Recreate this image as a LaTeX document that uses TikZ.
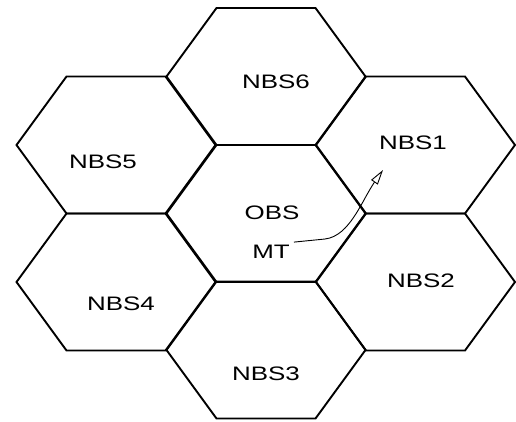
\documentclass[tikz,border=0pt]{standalone}
\usepackage{fontspec}
\setmainfont{Liberation Sans}
\usetikzlibrary{arrows.meta}

\tikzset{
  cell/.style={line width=1.9pt, line join=miter},
  lbl/.style={font=\fontsize{19.5}{22}\selectfont, xscale=1.33, inner sep=3pt},
  move/.style={line width=0.9pt, -{Triangle[open, length=15pt, width=8pt]}}
}

\begin{document}
\begin{tikzpicture}[x=1pt, y=-1pt]
        \useasboundingbox (0,0) rectangle (516,421);

        % Centre cell
        \draw [cell] (166.5,213.5) -- ++(50,-68.5) -- ++(99,0) -- ++(50,68.5) -- ++(-50,68.5) -- ++(-99,0) -- cycle;

        % Neighbour cells
        \draw [cell] (166.5,76.5) -- ++(50,-68.5) -- ++(99,0) -- ++(50,68.5) -- ++(-50,68.5) -- ++(-99,0) -- cycle;
        \draw [cell] (316,145) -- ++(50,-68.5) -- ++(99,0) -- ++(50,68.5) -- ++(-50,68.5) -- ++(-99,0) -- cycle;
        \draw [cell] (316,282) -- ++(50,-68.5) -- ++(99,0) -- ++(50,68.5) -- ++(-50,68.5) -- ++(-99,0) -- cycle;
        \draw [cell] (166.5,350) -- ++(50,-68.5) -- ++(99,0) -- ++(50,68.5) -- ++(-50,68.5) -- ++(-99,0) -- cycle;
        \draw [cell] (16.5,282) -- ++(50,-68.5) -- ++(99,0) -- ++(50,68.5) -- ++(-50,68.5) -- ++(-99,0) -- cycle;
        \draw [cell] (16.5,145) -- ++(50,-68.5) -- ++(99,0) -- ++(50,68.5) -- ++(-50,68.5) -- ++(-99,0) -- cycle;

        % Labels
        \node [lbl] (obs) at (272,213) {OBS};
        \node [lbl] (mt) at (271,252) {MT};
        \node [lbl] (nbs1) at (413,143) {NBS1};
        \node [lbl] (nbs2) at (421,281) {NBS2};
        \node [lbl] (nbs3) at (266,374) {NBS3};
        \node [lbl] (nbs4) at (121,304) {NBS4};
        \node [lbl] (nbs5) at (103,162) {NBS5};
        \node [lbl] (nbs6) at (276,82) {NBS6};

        % Handover path of the terminal
        \coordinate (bend) at (325,239);
        \coordinate (ho) at (383,170);
        \draw [move] (mt.north east) -- (bend) .. controls (350,236) and (362,200) .. (ho);
    \end{tikzpicture}
\end{document}
